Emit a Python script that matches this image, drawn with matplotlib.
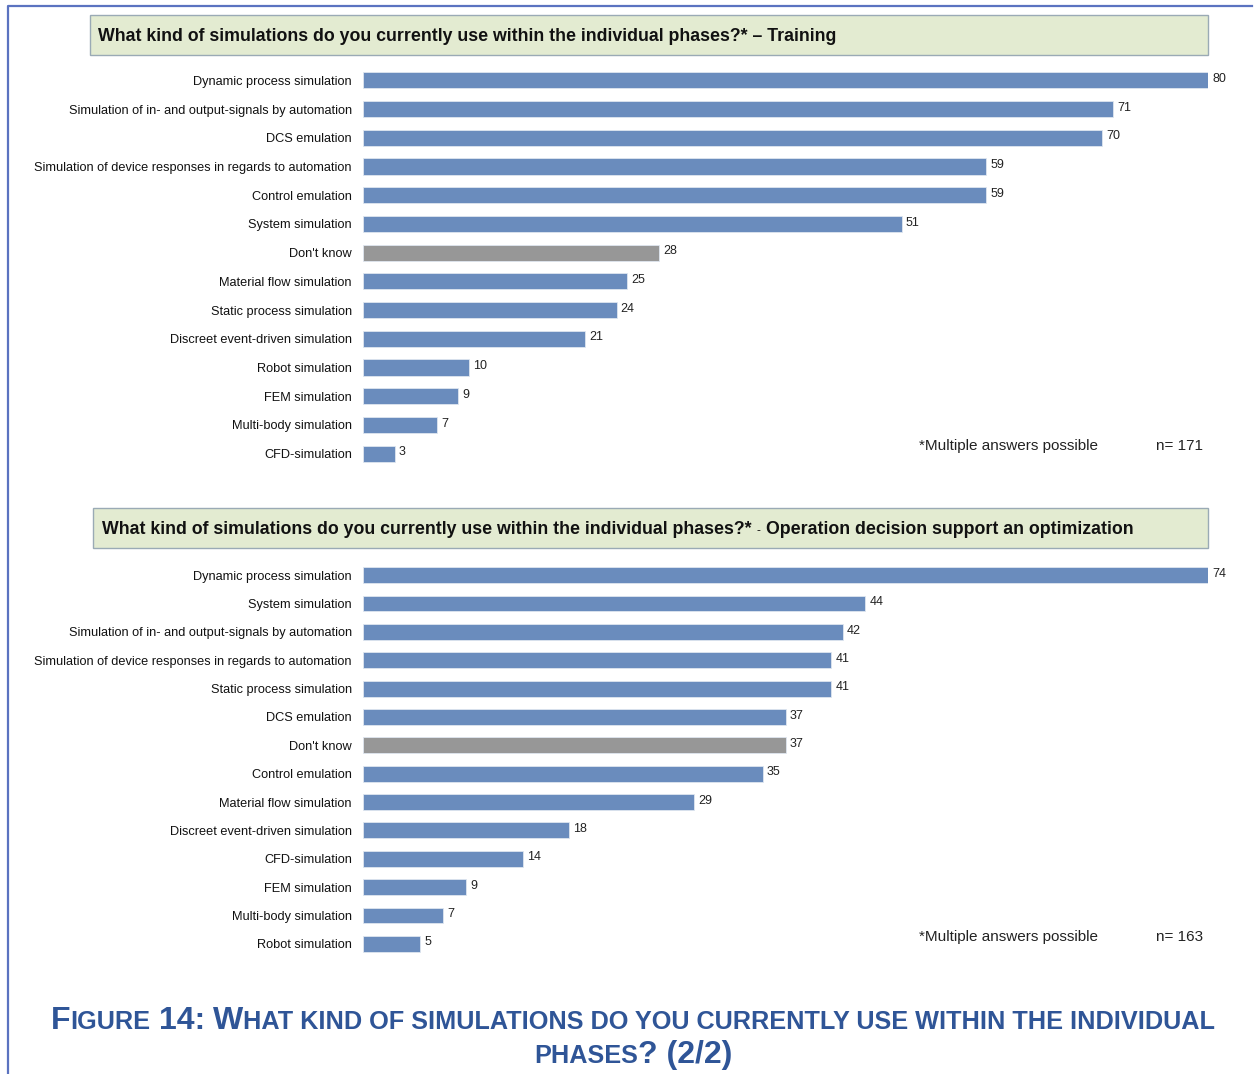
import matplotlib
matplotlib.use("Agg")
import matplotlib.pyplot as plt
from matplotlib.patches import Rectangle
from matplotlib.lines import Line2D

plt.rcParams['font.family'] = ['Liberation Sans', 'DejaVu Sans']

W, H = 1254, 1074

# data
labels_train = ["Dynamic process simulation",
                "Simulation of in- and output-signals by automation",
                "DCS emulation",
                "Simulation of device responses in regards to automation",
                "Control emulation",
                "System simulation",
                "Don't know",
                "Material flow simulation",
                "Static process simulation",
                "Discreet event-driven simulation",
                "Robot simulation",
                "FEM simulation",
                "Multi-body simulation",
                "CFD-simulation"]
values_train = [80, 71, 70, 59, 59, 51, 28, 25, 24, 21, 10, 9, 7, 3]

labels_ops = ["Dynamic process simulation",
              "System simulation",
              "Simulation of in- and output-signals by automation",
              "Simulation of device responses in regards to automation",
              "Static process simulation",
              "DCS emulation",
              "Don't know",
              "Control emulation",
              "Material flow simulation",
              "Discreet event-driven simulation",
              "CFD-simulation",
              "FEM simulation",
              "Multi-body simulation",
              "Robot simulation"]
values_ops = [74, 44, 42, 41, 41, 37, 37, 35, 29, 18, 14, 9, 7, 5]

n_train, n_ops = 171, 163

BLUE = "#6a8cbd"
GREY = "#979797"
BOX_FILL = "#e3ebd1"
BOX_EDGE = "#9aaab5"
CAP_COL = "#2f5597"


def fx(px):
    return px / W


def fy(py):
    return 1 - py / H


fig = plt.figure(figsize=(W / 100, H / 100), dpi=100)
renderer = fig.canvas.get_renderer()


def text_run(x_px, y_px, pieces, color="black", center=False):
    # pieces: (text, size, weight, gap_after_px)
    objs = []
    for txt, size, weight, gap in pieces:
        t = fig.text(0, fy(y_px), txt, fontsize=size, fontweight=weight,
                     color=color, va="baseline", ha="left")
        objs.append((t, gap))
    widths = [t.get_window_extent(renderer).width for t, _ in objs]
    total = sum(widths) + sum(g for _, g in objs[:-1])
    x = x_px - total / 2 if center else x_px
    for (t, gap), w in zip(objs, widths):
        t.set_x(fx(x))
        x += w + gap


def bar_chart(top_px, bot_px, labels, values):
    ax = fig.add_axes([fx(363), fy(bot_px), fx(1208) - fx(363),
                       (bot_px - top_px) / H])
    ypos = list(range(len(labels)))
    colors = [GREY if l == "Don't know" else BLUE for l in labels]
    ax.barh(ypos, values, height=0.56, color=colors, edgecolor="#dfe6f0",
            linewidth=0.6)
    ax.set_xlim(0, max(values))
    ax.set_ylim(len(labels) - 0.5, -0.5)
    ax.set_yticks(ypos)
    ax.set_yticklabels(labels, fontsize=9.2, color="#111111")
    ax.tick_params(axis="y", length=0, pad=8)
    ax.set_xticks([])
    for s in ax.spines.values():
        s.set_visible(False)
    ax.patch.set_alpha(0)
    for y, v in zip(ypos, values):
        ax.annotate(str(v), (v, y), xytext=(3, 1), textcoords="offset points",
                    va="center", ha="left", fontsize=9, color="#222222",
                    annotation_clip=False)
    return ax


# border lines
fig.add_artist(Line2D([fx(8), fx(8), fx(1252)], [fy(1074), fy(6), fy(6)],
                      color="#5b73c0", lw=1.6, transform=fig.transFigure))

# title boxes
fig.add_artist(Rectangle((fx(90), fy(55)), fx(1208) - fx(90), 40 / H,
                         transform=fig.transFigure, facecolor=BOX_FILL,
                         edgecolor=BOX_EDGE, lw=1.0))
fig.add_artist(Rectangle((fx(93), fy(548)), fx(1208) - fx(93), 40 / H,
                         transform=fig.transFigure, facecolor=BOX_FILL,
                         edgecolor=BOX_EDGE, lw=1.0))

text_run(98, 41, [("What kind of simulations do you currently use within the "
                   "individual phases?* \u2013 Training", 12.75, "bold", 0)],
         color="#111111")
text_run(102, 534, [("What kind of simulations do you currently use within the "
                     "individual phases?*", 12.75, "bold", 5),
                    ("-", 8.5, "normal", 5),
                    ("Operation decision support an optimization", 12.75,
                     "bold", 0)], color="#111111")

bar_chart(66, 468, labels_train, values_train)
bar_chart(561, 958, labels_ops, values_ops)

# footnotes
for yb, n in [(450, n_train), (941, n_ops)]:
    fig.text(fx(919), fy(yb), "*Multiple answers possible", fontsize=11,
             color="#222222", va="baseline")
    fig.text(fx(1156), fy(yb), f"n= {n}", fontsize=11, color="#222222",
             va="baseline")

# caption in small caps
big, small = 23, 18.2
text_run(633, 1029, [("F", big, "bold", 0), ("IGURE", small, "bold", 8),
                     ("14:", big, "bold", 8), ("W", big, "bold", 0),
                     ("HAT KIND OF SIMULATIONS DO YOU CURRENTLY USE WITHIN "
                      "THE INDIVIDUAL", small, "bold", 0)],
         color=CAP_COL, center=True)
text_run(633, 1063, [("PHASES", small, "bold", 0), ("? (2/2)", big, "bold", 0)],
         color=CAP_COL, center=True)

fig.savefig("out.png", dpi=100)
